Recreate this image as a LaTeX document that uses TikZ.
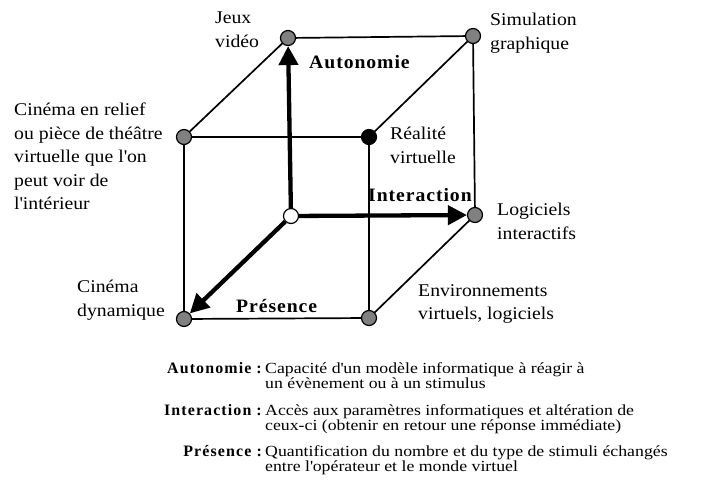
\documentclass[tikz,border=0pt]{standalone}
\usepackage{fontspec}
\setmainfont{Liberation Serif}
\newfontfamily\spacedbold[LetterSpace=5,FakeStretch=1.04]{Liberation Serif Bold}
\newfontfamily\legbold[LetterSpace=7]{Liberation Serif Bold}
\newfontfamily\legfont[FakeStretch=1.15]{Liberation Serif}
\newfontfamily\labfont[FakeStretch=1.1]{Liberation Serif}
\usetikzlibrary{arrows.meta}
\begin{document}
\begin{tikzpicture}[x=1bp,y=-1bp,
  edge/.style={line width=1.7bp},
  axis/.style={line width=4.3bp,-{Triangle[length=19bp,width=19bp]}},
  vtx/.style={circle,draw,line width=1.2bp,minimum size=15bp,inner sep=0pt,fill=black!50},
  lbl/.style={font=\labfont\fontsize{18}{23.5}\selectfont,align=left,inner sep=0pt,anchor=north west},
  axlbl/.style={font=\spacedbold\fontsize{19}{20}\selectfont,inner sep=0pt,anchor=north west},
  legterm/.style={font=\legbold\fontsize{16}{16}\selectfont,inner sep=0pt,anchor=north east},
  legtext/.style={font=\legfont\fontsize{15.5}{15.5}\selectfont,align=left,inner sep=0pt,anchor=north west}]
\useasboundingbox (0,0) rectangle (708,495);
% vertices
\node[vtx] (jeux) at (288,38) {};
\node[vtx] (simu) at (473,36) {};
\node[vtx] (relief) at (184,137) {};
\node[vtx,fill=black] (rv) at (369,137) {};
\node[vtx,fill=white] (o) at (291,216) {};
\node[vtx] (logi) at (475,215) {};
\node[vtx] (dyn) at (184,319) {};
\node[vtx] (env) at (369,318) {};
% cube edges
\draw[edge] (jeux) -- (simu);
\draw[edge] (simu) -- (logi);
\draw[edge] (jeux) -- (relief);
\draw[edge] (simu) -- (rv);
\draw[edge] (logi) -- (env);
\draw[edge] (relief) -- (rv);
\draw[edge] (relief) -- (dyn);
\draw[edge] (rv) -- (env);
\draw[edge] (dyn) -- (env);
% axes
\draw[axis] (o) -- (jeux);
\draw[axis] (o) -- (logi);
\draw[axis] (o) -- (dyn);
% axis labels
\node[axlbl] (lauto) at (309,55) {Autonomie};
\node[axlbl] (linter) at (368,188) {Interaction};
\node[axlbl] (lpres) at (236,299) {Présence};
% vertex labels
\node[lbl] (tjeux) at (215,12) {Jeux\\vidéo};
\node[lbl] (tsimu) at (490,13) {Simulation\\graphique};
\node[lbl] (trelief) at (14,103) {Cinéma en relief\\ou pièce de théâtre\\virtuelle que l\textquotesingle on\\peut voir de\\l\textquotesingle intérieur};
\node[lbl] (trv) at (390,127) {Réalité\\virtuelle};
\node[lbl] (tlogi) at (497,203) {Logiciels\\interactifs};
\node[lbl] (tdyn) at (77,280) {Cinéma\\dynamique};
\node[lbl] (tenv) at (418,284) {Environnements\\virtuels, logiciels};
% legend
\node[legterm] (ka) at (262,362) {Autonomie :};
\node[legtext] (da) at (265,362) {Capacité d\textquotesingle un modèle informatique à réagir à\\un évènement ou à un stimulus};
\node[legterm] (ki) at (262,404) {Interaction :};
\node[legtext] (di) at (265,404) {Accès aux paramètres informatiques et altération de\\ceux-ci (obtenir en retour une réponse immédiate)};
\node[legterm] (kp) at (262,445) {Présence :};
\node[legtext] (dp) at (265,445) {Quantification du nombre et du type de stimuli échangés\\entre l\textquotesingle opérateur et le monde virtuel};
\end{tikzpicture}
\end{document}
